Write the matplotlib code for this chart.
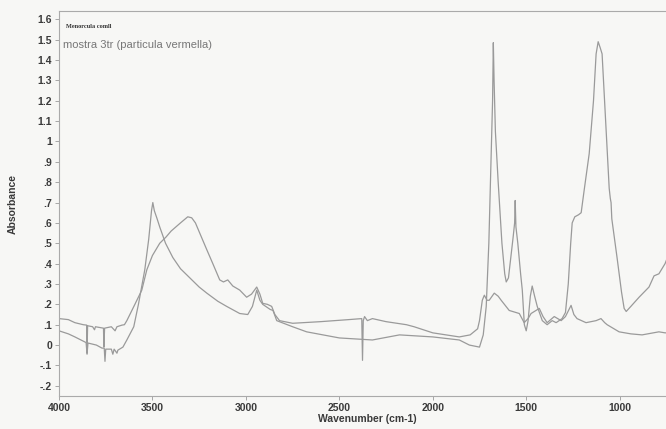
import numpy as np
import matplotlib
matplotlib.use('Agg')
import matplotlib.pyplot as plt

# spectrum 1 - sharp band at 3490, amide + 1110 bands
wn_a = [4000, 3950, 3915, 3861, 3855, 3850, 3845, 3800, 3770, 3758, 3754, 3750, 3720, 3712, 3705,
        3690, 3685, 3658, 3637, 3600, 3575, 3541, 3520, 3505, 3498, 3490, 3475, 3461, 3430, 3391,
        3350, 3300, 3250, 3209, 3150, 3103, 3033, 2990, 2965, 2942, 2925, 2910, 2870, 2855, 2835,
        2750, 2675, 2500, 2323, 2178, 2000, 1858, 1804, 1750, 1730, 1714, 1700, 1690, 1680, 1676,
        1672, 1665, 1650, 1630, 1615, 1607, 1595, 1580, 1570, 1562, 1559, 1555, 1545, 1530, 1521,
        1510, 1500, 1490, 1478, 1468, 1455, 1441, 1414, 1388, 1361, 1340, 1308, 1290, 1275, 1262,
        1254, 1240, 1220, 1206, 1190, 1163, 1140, 1126, 1115, 1104, 1094, 1075, 1056, 1050, 1046,
        1042, 1014, 990, 976, 965, 940, 896, 843, 816, 790, 757, 740, 700]
abs_a = [0.07, 0.055, 0.04, 0.015, 0.012, -0.045, 0.01, 0.0, -0.015, -0.015, -0.08, -0.02, -0.02, -0.045, -0.02,
         -0.04, -0.025, -0.01, 0.025, 0.09, 0.2, 0.37, 0.52, 0.66, 0.70, 0.66, 0.62, 0.58, 0.50, 0.43,
         0.375, 0.33, 0.285, 0.255, 0.215, 0.19, 0.155, 0.15, 0.19, 0.27, 0.22, 0.2, 0.175, 0.17, 0.12,
         0.09, 0.065, 0.035, 0.025, 0.05, 0.04, 0.025, 0.0, -0.01, 0.05, 0.19, 0.5, 0.85, 1.2, 1.485,
         1.3, 1.05, 0.8, 0.5, 0.35, 0.31, 0.33, 0.45, 0.53, 0.6, 0.71, 0.58, 0.5, 0.35, 0.27,
         0.1, 0.07, 0.12, 0.24, 0.29, 0.24, 0.19, 0.12, 0.1, 0.12, 0.11, 0.13, 0.16, 0.3, 0.5,
         0.6, 0.63, 0.64, 0.65, 0.76, 0.94, 1.2, 1.43, 1.49, 1.46, 1.43, 1.1, 0.77, 0.72, 0.70,
         0.62, 0.43, 0.26, 0.18, 0.165, 0.19, 0.235, 0.285, 0.34, 0.35, 0.40, 0.44, 0.5]

# spectrum 2 - broad OH band at 3300
wn_b = [4000, 3950, 3915, 3870, 3852, 3850, 3847, 3820, 3810, 3805, 3762, 3760, 3756, 3720, 3700,
        3690, 3663, 3650, 3637, 3594, 3557, 3530, 3500, 3461, 3428, 3400, 3350, 3311, 3290, 3270,
        3247, 3210, 3177, 3140, 3120, 3097, 3070, 3033, 2996, 2970, 2942, 2925, 2910, 2885, 2862,
        2845, 2820, 2750, 2600, 2450, 2380, 2376, 2372, 2365, 2350, 2323, 2250, 2141, 2100, 2000,
        1858, 1800, 1760, 1750, 1735, 1724, 1710, 1698, 1671, 1650, 1634, 1591, 1537, 1511, 1490,
        1474, 1430, 1410, 1388, 1350, 1313, 1290, 1260, 1245, 1228, 1180, 1126, 1100, 1080, 1067,
        1003, 940, 880, 820, 790, 757, 700]
abs_b = [0.13, 0.125, 0.11, 0.1, 0.098, -0.04, 0.095, 0.09, 0.075, 0.09, 0.083, -0.01, 0.083, 0.09, 0.07,
         0.09, 0.098, 0.1, 0.12, 0.2, 0.27, 0.37, 0.44, 0.50, 0.53, 0.56, 0.60, 0.63, 0.625, 0.6,
         0.55, 0.47, 0.40, 0.32, 0.31, 0.32, 0.29, 0.27, 0.235, 0.25, 0.285, 0.25, 0.205, 0.2, 0.19,
         0.15, 0.12, 0.107, 0.115, 0.125, 0.13, -0.075, 0.12, 0.14, 0.12, 0.13, 0.115, 0.1, 0.09, 0.06,
         0.04, 0.05, 0.08, 0.12, 0.22, 0.245, 0.22, 0.22, 0.255, 0.24, 0.22, 0.17, 0.155, 0.11, 0.13,
         0.155, 0.18, 0.14, 0.11, 0.14, 0.12, 0.14, 0.195, 0.15, 0.13, 0.11, 0.12, 0.13, 0.11, 0.1,
         0.065, 0.055, 0.05, 0.06, 0.065, 0.06, 0.06]

yticks = np.round(np.arange(-0.2, 1.61, 0.1), 1)
xticks = [4000, 3500, 3000, 2500, 2000, 1500, 1000]

def lab(v):
    if v == 0:
        return '0'
    s = f"{v:g}"
    return s.replace('0.', '.')

plt.rcParams['font.family'] = ['Liberation Sans', 'DejaVu Sans']
fig = plt.figure(figsize=(6.66, 4.29), dpi=100, facecolor='#f7f7f5')
ax = fig.add_axes([0.0886, 0.077, 0.926, 0.897])
ax.set_facecolor('#f7f7f5')

ax.plot(wn_a, abs_a, color='#9a9a9a', lw=0.9)
ax.plot(wn_b, abs_b, color='#9a9a9a', lw=0.9)

ax.set_xlim(4000, 700)
ax.set_ylim(-0.25, 1.64)
ax.set_xticks(xticks)
ax.set_xticklabels([str(x) for x in xticks], fontsize=7.5, fontweight='bold', color='#3a3a3a')
ax.set_yticks(yticks)
ax.set_yticklabels([lab(v) for v in yticks], fontsize=7.5, fontweight='bold', color='#3a3a3a')
ax.tick_params(length=3, width=0.6, color='#999999', pad=2)
for s in ['left', 'bottom', 'top']:
    ax.spines[s].set_color('#aaaaaa')
    ax.spines[s].set_linewidth(0.8)
ax.spines['right'].set_visible(False)

ax.set_xlabel('Wavenumber (cm-1)', fontsize=7.5, fontweight='bold', color='#3a3a3a', labelpad=1)
ax.set_ylabel('Absorbance', fontsize=7.5, fontweight='bold', color='#3a3a3a', labelpad=14)

ax.text(0.012, 0.955, 'Menorcula comll', transform=ax.transAxes, fontsize=4.5,
        fontweight='bold', family='Liberation Serif', color='#333333')
ax.text(0.007, 0.903, 'mostra 3tr (particula vermella)', transform=ax.transAxes,
        fontsize=8, color='#777777')

plt.savefig('out.png', dpi=100, facecolor=fig.get_facecolor())
